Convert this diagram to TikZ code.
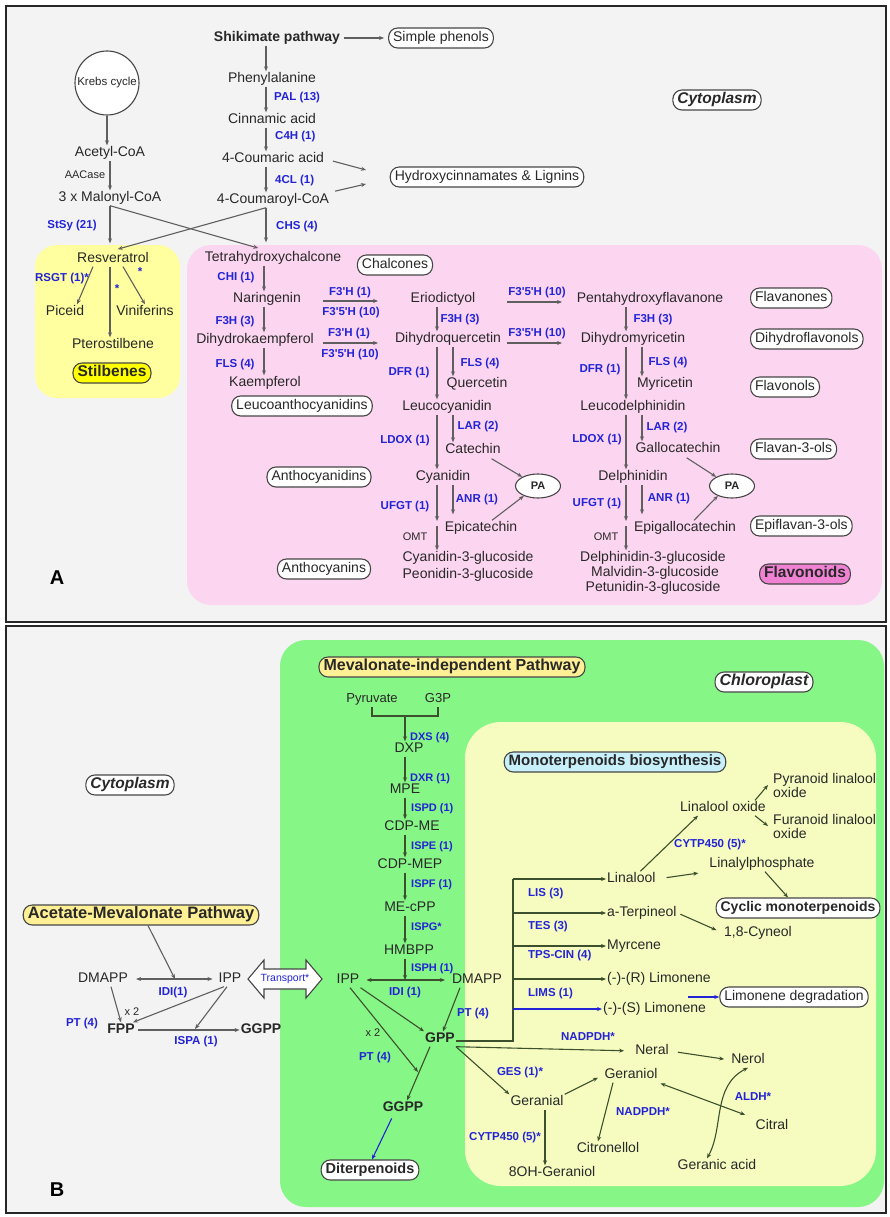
\documentclass[tikz,border=0pt]{standalone}
\usepackage{fontspec}
\setmainfont{Liberation Sans}
\usetikzlibrary{arrows.meta,shapes.geometric,calc}
\definecolor{bgc}{RGB}{243,243,243}
\definecolor{pinkc}{RGB}{252,214,241}
\definecolor{yelc}{RGB}{255,255,160}
\definecolor{stilc}{RGB}{255,255,0}
\definecolor{flavc}{RGB}{240,130,212}
\definecolor{grnc}{RGB}{134,246,134}
\definecolor{pyelc}{RGB}{246,252,192}
\definecolor{mevc}{RGB}{255,240,150}
\definecolor{cyanc}{RGB}{200,240,250}
\definecolor{txtc}{RGB}{40,40,40}
\definecolor{enzc}{RGB}{35,35,215}
\definecolor{arca}{RGB}{95,95,95}
\definecolor{arcb}{RGB}{60,80,45}
\definecolor{boxc}{RGB}{70,70,70}
\newcommand\pq{\textquotesingle}
\begin{document}
\begin{tikzpicture}[x=1pt,y=-1pt,
 lbl/.style={font=\fontsize{14}{15}\selectfont, text=txtc, inner sep=1pt, text height=10pt, text depth=3pt},
 lblb/.style={lbl, font=\fontsize{14}{15}\selectfont\bfseries},
 lblm/.style={font=\fontsize{14}{14}\selectfont, text=txtc, inner sep=1pt, align=left},
 enz/.style={font=\fontsize{11.5}{13}\selectfont\bfseries, text=enzc, inner sep=1pt, text height=8.5pt, text depth=2.5pt},
 enzs/.style={enz, font=\fontsize{11}{12}\selectfont\bfseries},
 smal/.style={font=\fontsize{11}{12}\selectfont, text=txtc, inner sep=1pt},
 pill/.style={draw=boxc, line width=1.1pt, rounded corners=9pt, fill=white, font=\fontsize{14}{15}\selectfont, text=txtc, inner xsep=4.5pt, inner ysep=3.5pt, text height=10pt, text depth=3pt},
 paov/.style={ellipse, draw=boxc, line width=1.1pt, fill=white, minimum width=45pt, minimum height=24pt, inner sep=0pt, font=\fontsize{11}{12}\selectfont\bfseries, text=txtc},
 arA/.style={draw=arca, line width=1.1pt, -{Stealth[length=5pt,width=4pt]}},
 arAd/.style={draw=arca, line width=1.1pt, {Stealth[length=5pt,width=4pt]}-{Stealth[length=5pt,width=4pt]}},
 arB/.style={draw=arcb, line width=1.1pt, -{Stealth[length=5pt,width=4pt]}},
 arBd/.style={draw=arcb, line width=1.1pt, {Stealth[length=5pt,width=4pt]}-{Stealth[length=5pt,width=4pt]}},
 arBl/.style={draw=enzc, line width=1.1pt, -{Stealth[length=5pt,width=4pt]}},
 lnB/.style={draw=arcb, line width=1.1pt},
]
\useasboundingbox (0,0) rectangle (890,1217);
\fill[white] (0,0) rectangle (890,1217);
\filldraw[fill=bgc, draw=black!85, line width=2pt] (6,6) rectangle (886,622);
\filldraw[fill=bgc, draw=black!85, line width=2pt] (6,626) rectangle (886,1213);

% ---------- regions
\fill[yelc, rounded corners=22pt] (35,245) rectangle (180,398);
\fill[pinkc, rounded corners=24pt] (187,245) rectangle (882,605);
\fill[grnc, rounded corners=26pt] (280,640) rectangle (884,1207);
\fill[pyelc, rounded corners=36pt] (465,722) rectangle (876,1186);

% ---------- columns
\coordinate (cS) at (266,0);
\coordinate (cN) at (264,0);
\coordinate (cE1) at (437,0);
\coordinate (cE2) at (453,0);
\coordinate (cP1) at (626,0);
\coordinate (cP2) at (642,0);
\coordinate (cB) at (405,0);

% ================= PANEL A =================
\node[lblb] (shik) at (277,38) {Shikimate pathway};
\node[pill] (simp) at (441,38) {Simple phenols};
\node[lbl] (phe) at (272,79) {Phenylalanine};
\node[lbl] (cin) at (272,120) {Cinnamic acid};
\node[lbl] (cou) at (273,159) {4-Coumaric acid};
\node[lbl] (coa) at (273,200) {4-Coumaroyl-CoA};
\node[pill] (hyd) at (487,177) {Hydroxycinnamates \& Lignins};
\node[enz, anchor=west] (pal) at (273,98) {PAL (13)};
\node[enz, anchor=west] (c4h) at (274,137) {C4H (1)};
\node[enz, anchor=west] (fcl) at (274,180) {4CL (1)};
\node[enz, anchor=west] (chs) at (275,226) {CHS (4)};
\node[circle, draw=boxc, line width=1.1pt, fill=white, minimum size=64pt, inner sep=0pt, font=\fontsize{11.5}{12}\selectfont, text=txtc] (krebs) at (107,83) {Krebs cycle};
\node[lbl] (acoa) at (110,153) {Acetyl-CoA};
\node[smal] (aac) at (85,175) {AACase};
\node[lbl] (mal) at (110,198) {3 x Malonyl-CoA};
\node[enz] (stsy) at (72,225) {StSy (21)};
\node[pill, font=\fontsize{15.5}{16}\selectfont\bfseries\itshape] (cyt1) at (717,100) {Cytoplasm};

\draw[arA] (shik.south -| cS) -- (phe.north -| cS);
\draw[arA] (phe.south -| cS) -- (cin.north -| cS);
\draw[arA] (cin.south -| cS) -- (cou.north -| cS);
\draw[arA] (cou.south -| cS) -- (coa.north -| cS);
\draw[arA, shorten <=3pt, shorten >=4pt] (shik.east) -- (simp.west);
\coordinate (hy1) at (366,170);
\coordinate (hy2) at (366,184);
\draw[arA, shorten <=8pt] (cou.east) -- (hy1);
\draw[arA, shorten <=5pt] (coa.north east) -- (hy2);
\draw[arA] (krebs.south) -- (krebs.south |- acoa.north);
\draw[arA] (acoa.south) -- (mal.north);

% stilbenes
\node[lbl] (resv) at (113,259) {Resveratrol};
\node[lbl] (tetra) at (273,258) {Tetrahydroxychalcone};
\draw[arA, shorten >=8pt] (mal.south) -- (mal.south |- resv.north);
\draw[arA, shorten >=8pt] (mal.south) -- (tetra.north -| cS);
\draw[arA, shorten >=8pt] (coa.south -| cS) -- (tetra.north -| cS);
\draw[arA, shorten >=8pt] (coa.south -| cS) -- (mal.south |- resv.north);

\node[lbl] (pice) at (65,312) {Piceid};
\node[lbl] (vini) at (145,312) {Viniferins};
\node[lbl] (ptero) at (113,345) {Pterostilbene};
\node[pill, fill=stilc, font=\fontsize{15.5}{16}\selectfont\bfseries] (stil) at (112,373) {Stilbenes};
\node[enz] (rsgt) at (62,278) {RSGT (1)*};
\node[enz] (st1) at (140,272) {*};
\node[enz] (st2) at (117,289) {*};
\draw[arA] ([xshift=-20pt]resv.south) -- ([xshift=12pt]pice.north);
\draw[arA] ([xshift=-3pt]resv.south) -- ([xshift=-3pt]resv.south |- ptero.north);
\draw[arA] ([xshift=10pt]resv.south) -- (vini.north);

% flavonoids: left column
\node[pill] (chal) at (395,265) {Chalcones};
\node[enz] (chi) at (236,277) {CHI (1)};
\node[lbl] (nar) at (267,299) {Naringenin};
\node[enz] (f3ha) at (235,321) {F3H (3)};
\node[lbl] (dhk) at (255,340) {Dihydrokaempferol};
\node[enz] (flsa) at (235,364) {FLS (4)};
\node[lbl] (kae) at (265,383) {Kaempferol};
\node[pill] (leuco) at (302,406) {Leucoanthocyanidins};
\node[pill] (antho) at (319,477) {Anthocyanidins};
\node[pill] (anthc) at (324,569) {Anthocyanins};
\draw[arA] (tetra.south -| cN) -- (nar.north -| cN);
\draw[arA] (nar.south -| cN) -- (dhk.north -| cN);
\draw[arA] (dhk.south -| cN) -- (kae.north -| cN);

% horizontal hydroxylations
\coordinate (h1a) at (323,301); \coordinate (h1b) at (378,301);
\coordinate (h2a) at (323,343); \coordinate (h2b) at (378,343);
\coordinate (h3a) at (507,302); \coordinate (h3b) at (562,302);
\coordinate (h4a) at (507,343); \coordinate (h4b) at (562,343);
\draw[arA] (h1a) -- (h1b);
\draw[arA] (h2a) -- (h2b);
\draw[arA] (h3a) -- (h3b);
\draw[arA] (h4a) -- (h4b);
\node[enz] (l1a) at (350,292) {F3\pq H (1)};
\node[enz] (l1b) at (351,312) {F3\pq5\pq H (10)};
\node[enz] (l2a) at (349,333) {F3\pq H (1)};
\node[enz] (l2b) at (350,354) {F3\pq5\pq H (10)};
\node[enz] (l3a) at (537,292) {F3\pq5\pq H (10)};
\node[enz] (l4a) at (537,333) {F3\pq5\pq H (10)};

% middle column
\node[lbl] (erio) at (443,299) {Eriodictyol};
\node[enz] (f3hb) at (460,319) {F3H (3)};
\node[lbl] (dhq) at (448,339) {Dihydroquercetin};
\node[enz] (dfra) at (409,372) {DFR (1)};
\node[enz] (flsb) at (480,363) {FLS (4)};
\node[lbl] (quer) at (477,384) {Quercetin};
\node[lbl] (leuc) at (447,407) {Leucocyanidin};
\node[enz] (lara) at (478,426) {LAR (2)};
\node[enz] (ldoxa) at (405,440) {LDOX (1)};
\node[lbl] (cat) at (473,450) {Catechin};
\node[lbl] (cyan) at (443,477) {Cyanidin};
\node[paov] (pa1) at (538,486) {PA};
\node[enz] (ufgta) at (405,506) {UFGT (1)};
\node[enz] (anra) at (477,499) {ANR (1)};
\node[lbl] (epic) at (481,528) {Epicatechin};
\node[smal] (omta) at (415,537) {OMT};
\node[lbl] (cy3g) at (468,558) {Cyanidin-3-glucoside};
\node[lbl] (peo) at (468,575) {Peonidin-3-glucoside};
\draw[arA] (erio.south -| cE1) -- (dhq.north -| cE1);
\draw[arA] (dhq.south -| cE1) -- (leuc.north -| cE1);
\draw[arA] (dhq.south -| cE2) -- (quer.north -| cE2);
\draw[arA] (leuc.south -| cE1) -- (cyan.north -| cE1);
\draw[arA] (leuc.south -| cE2) -- (cat.north -| cE2);
\coordinate (u1) at (437,521);
\coordinate (o1) at (437,526);
\draw[arA] (cyan.south -| cE1) -- (u1);
\draw[arA] (o1) -- (cy3g.north -| cE1);
\draw[arA, shorten >=6pt] (cyan.south -| cE2) -- (epic.north -| cE2);
\draw[arA, shorten <=2pt] ([xshift=-12pt]cat.south east) -- (pa1.150);
\draw[arA] ([xshift=11pt]epic.north) -- (pa1.215);

% right column
\node[lbl] (pent) at (650,299) {Pentahydroxyflavanone};
\node[enz] (f3hc) at (653,319) {F3H (3)};
\node[lbl] (dhm) at (633,339) {Dihydromyricetin};
\node[enz] (dfrb) at (600,369) {DFR (1)};
\node[enz] (flsc) at (668,362) {FLS (4)};
\node[lbl] (myr) at (665,384) {Myricetin};
\node[lbl] (leud) at (633,407) {Leucodelphinidin};
\node[enz] (larb) at (667,427) {LAR (2)};
\node[enz] (ldoxb) at (597,439) {LDOX (1)};
\node[lbl] (galc) at (678,449) {Gallocatechin};
\node[lbl] (delp) at (633,477) {Delphinidin};
\node[paov] (pa2) at (732,486) {PA};
\node[enz] (ufgtb) at (597,503) {UFGT (1)};
\node[enz] (anrb) at (669,498) {ANR (1)};
\node[lbl] (epig) at (685,528) {Epigallocatechin};
\node[smal] (omtb) at (606,537) {OMT};
\node[lbl] (d3g) at (653,558) {Delphinidin-3-glucoside};
\node[lbl] (m3g) at (655,573) {Malvidin-3-glucoside};
\node[lbl] (p3g) at (653,588) {Petunidin-3-glucoside};
\draw[arA] (pent.south -| cP1) -- (dhm.north -| cP1);
\draw[arA] (dhm.south -| cP1) -- (leud.north -| cP1);
\draw[arA] (dhm.south -| cP2) -- (myr.north -| cP2);
\draw[arA] (leud.south -| cP1) -- (delp.north -| cP1);
\draw[arA] (leud.south -| cP2) -- (galc.north -| cP2);
\coordinate (u2) at (626,521);
\coordinate (o2) at (626,526);
\draw[arA] (delp.south -| cP1) -- (u2);
\draw[arA] (o2) -- (d3g.north -| cP1);
\draw[arA, shorten >=6pt] (delp.south -| cP2) -- (epig.north -| cP2);
\draw[arA, shorten <=2pt] ([xshift=7pt]galc.south) -- (pa2.150);
\draw[arA] ([xshift=9pt]epig.north) -- (pa2.215);

% category boxes
\node[pill, anchor=west] (flvn) at (750,298) {Flavanones};
\node[pill, anchor=west] (dhfl) at (750,339) {Dihydroflavonols};
\node[pill, anchor=west] (flvl) at (750,387) {Flavonols};
\node[pill, anchor=west] (f3ol) at (750,449) {Flavan-3-ols};
\node[pill, anchor=west] (ef3ol) at (750,526) {Epiflavan-3-ols};
\node[pill, fill=flavc, font=\fontsize{15.5}{16}\selectfont\bfseries] (flav) at (805,574) {Flavonoids};

\node[font=\fontsize{20}{22}\selectfont\bfseries, text=black] (labA) at (57,578) {A};

% ================= PANEL B =================
\node[pill, fill=mevc, font=\fontsize{16}{17}\selectfont\bfseries] (mip) at (452,667) {Mevalonate-independent Pathway};
\node[pill, font=\fontsize{16}{17}\selectfont\bfseries\itshape] (chl) at (764,682) {Chloroplast};
\node[pill, font=\fontsize{15.5}{16}\selectfont\bfseries\itshape] (cyt2) at (130,785) {Cytoplasm};
\node[pill, fill=mevc, font=\fontsize{16.5}{17}\selectfont\bfseries] (amp) at (141,915) {Acetate-Mevalonate Pathway};
\node[pill, fill=cyanc, font=\fontsize{15}{16}\selectfont\bfseries] (mono) at (615,762) {Monoterpenoids biosynthesis};

\node[lbl, font=\fontsize{13}{14}\selectfont] (pyr) at (372,699) {Pyruvate};
\node[lbl, font=\fontsize{13}{14}\selectfont] (g3p) at (438,699) {G3P};
\coordinate (brm) at (405,716);
\draw[lnB] (pyr.south) |- (brm) -| (g3p.south);

\node[lbl] (dxp) at (409,749) {DXP};
\node[lbl] (mpe) at (405,790) {MPE};
\node[lbl] (cdpme) at (412,827) {CDP-ME};
\node[lbl] (cdpmep) at (410,865) {CDP-MEP};
\node[lbl] (mecpp) at (410,908) {ME-cPP};
\node[lbl] (hmbpp) at (409,951) {HMBPP};
\node[enzs, anchor=west] (dxs) at (409,737) {DXS (4)};
\node[enzs, anchor=west] (dxr) at (409,778) {DXR (1)};
\node[enzs, anchor=west] (ispd) at (410,808) {ISPD (1)};
\node[enzs, anchor=west] (ispe) at (410,846) {ISPE (1)};
\node[enzs, anchor=west] (ispf) at (410,884) {ISPF (1)};
\node[enzs, anchor=west] (ispg) at (410,927) {ISPG*};
\node[enzs, anchor=west] (isph) at (410,968) {ISPH (1)};
\draw[arB] (brm) -- (dxp.north -| cB);
\draw[arB] (dxp.south -| cB) -- (mpe.north -| cB);
\draw[arB] (mpe.south -| cB) -- (cdpme.north -| cB);
\draw[arB] (cdpme.south -| cB) -- (cdpmep.north -| cB);
\draw[arB] (cdpmep.south -| cB) -- (mecpp.north -| cB);
\draw[arB] (mecpp.south -| cB) -- (hmbpp.north -| cB);

\node[lbl] (ipp2) at (348,980) {IPP};
\node[lbl] (dmapp2) at (477,980) {DMAPP};
\coordinate (idm) at (405,980);
\draw[arBd, shorten <=6pt, shorten >=6pt] (ipp2.east) -- (dmapp2.west);
\draw[arB] (hmbpp.south -| cB) -- (idm);
\node[enz] (idi2) at (405,992) {IDI (1)};
\node[lblb] (gpp) at (440,1039) {GPP};
\node[lblb] (ggpp2) at (403,1108) {GGPP};
\node[enz] (pt2) at (473,1013) {PT (4)};
\node[smal] (x2b) at (373,1033) {x 2};
\node[enz] (pt3) at (375,1057) {PT (4)};
\node[pill, font=\fontsize{14.5}{15}\selectfont\bfseries] (diter) at (370,1170) {Diterpenoids};
\coordinate (gj) at (418,1072);
\draw[arB] (ipp2.south east) -- (gpp.north west);
\draw[arB] ([xshift=-17pt]dmapp2.south) -- ([xshift=3pt]gpp.north);
\draw[arB] ([xshift=2pt]ipp2.south) -- (gj);
\draw[arB] ([xshift=-10pt]gpp.south) -- ([xshift=4pt]ggpp2.north);
\draw[arBl, shorten <=3pt] ([xshift=-10pt]ggpp2.south) -- ([xshift=2pt]diter.north);

% cytoplasm (left)
\node[lbl] (dmapp1) at (103,979) {DMAPP};
\node[lbl] (ipp1) at (230,979) {IPP};
\node[enz] (idi1) at (173,992) {IDI(1)};
\node[lblb] (fpp) at (121,1030) {FPP};
\node[lblb] (ggpp1) at (261,1030) {GGPP};
\node[enz] (ispa) at (196,1041) {ISPA (1)};
\node[enz] (pt1) at (82,1023) {PT (4)};
\node[smal] (x2a) at (132,1012) {x 2};
\coordinate (aj) at (175,979);
\coordinate (fj) at (195,1029);
\draw[arAd, shorten <=7pt, shorten >=5pt] (dmapp1.east) -- (ipp1.west);
\draw[arA] ([xshift=7pt]amp.south) -- (aj);
\draw[arA] ([xshift=8pt]dmapp1.south) -- (fpp.north);
\draw[arA] ([xshift=-6pt]ipp1.south) -- ([xshift=12pt]fpp.north);
\draw[arA] ([xshift=-3pt]ipp1.south) -- (fj);
\draw[arA, shorten <=2pt] (fpp.east) -- (ggpp1.west);

% transport
\draw[draw=boxc, line width=1.1pt, fill=white] (248,979) -- (264,960) -- (264,969) -- (306,969) -- (306,960) -- (322,979) -- (306,998) -- (306,989) -- (264,989) -- (264,998) -- cycle;
\node[font=\fontsize{10.5}{11}\selectfont, text=enzc, inner sep=0pt] (trans) at (285,979) {Transport*};

% monoterpenoids
\node[lbl, anchor=west] (lin) at (606,879) {Linalool};
\node[lbl, anchor=west] (aterp) at (606,913) {a-Terpineol};
\node[lbl, anchor=west] (myrc) at (606,946) {Myrcene};
\node[lbl, anchor=west] (rlim) at (606,979) {(-)-(R) Limonene};
\node[lbl, anchor=west] (slim) at (602,1009) {(-)-(S) Limonene};
\coordinate (brk0) at (513,1041);
\draw[lnB] (gpp.east |- brk0) -- (brk0) -- (lin.west -| brk0);
\draw[arB] (lin.west -| brk0) -- (lin.west);
\draw[arB] (aterp.west -| brk0) -- (aterp.west);
\draw[arB] (myrc.west -| brk0) -- (myrc.west);
\draw[arB] (rlim.west -| brk0) -- (rlim.west);
\draw[arBl] (slim.west -| brk0) -- (slim.west);
\node[enz, anchor=west] (lis) at (527,893) {LIS (3)};
\node[enz, anchor=west] (tes) at (527,926) {TES (3)};
\node[enz, anchor=west] (tps) at (527,955) {TPS-CIN (4)};
\node[enz, anchor=west] (lims) at (527,993) {LIMS (1)};

\node[lbl] (linox) at (723,808) {Linalool oxide};
\node[lblm, anchor=west] (pyrl) at (772,785) {Pyranoid linalool\\oxide};
\node[lblm, anchor=west] (furl) at (772,826) {Furanoid linalool\\oxide};
\node[enz] (cyp1) at (710,844) {CYTP450 (5)*};
\node[lbl] (linp) at (762,864) {Linalylphosphate};
\node[pill, font=\fontsize{14}{15}\selectfont\bfseries] (cyc) at (798,908) {Cyclic monoterpenoids};
\node[lbl] (cyn) at (758,933) {1,8-Cyneol};
\node[pill] (limd) at (794,997) {Limonene degradation};
\coordinate (lds) at (688,997);
\draw[arB] ([xshift=9pt]lin.north) -- ([xshift=-25pt]linox.south);
\draw[arB, shorten <=10pt, shorten >=10pt] (lin.east) -- (linp.south west);
\draw[arB] ([xshift=32pt]linox.north) -- ([xshift=-4pt]pyrl.west);
\draw[arB] ([xshift=32pt]linox.south) -- ([xshift=-4pt]furl.west);
\draw[arB] ([xshift=3pt]linp.south) -- ([xshift=-10pt]cyc.north);
\draw[arB, shorten <=3pt, shorten >=7pt] (aterp.east) -- (cyn.west);
\draw[arBl] (lds) -- (limd.west);

\node[enz] (nad1) at (588,1037) {NADPDH*};
\node[lbl] (neral) at (652,1051) {Neral};
\node[lbl] (nerol) at (748,1060) {Nerol};
\node[enz] (ges) at (520,1072) {GES (1)*};
\node[lbl] (gerl) at (537,1102) {Geranial};
\node[lbl] (gero) at (631,1075) {Geraniol};
\node[enz] (nad2) at (643,1112) {NADPDH*};
\node[lbl] (citro) at (608,1149) {Citronellol};
\node[enz] (cyp2) at (505,1137) {CYTP450 (5)*};
\node[lbl] (ohg) at (552,1173) {8OH-Geraniol};
\node[lbl] (citr) at (772,1126) {Citral};
\node[enz] (aldh) at (753,1097) {ALDH*};
\node[lbl] (gacid) at (717,1166) {Geranic acid};
\draw[arB, shorten >=10pt] (gpp.south east) -- (neral.west);
\draw[arB, shorten <=8pt, shorten >=6pt] (neral.east) -- (nerol.west);
\draw[arB] (gpp.south east) -- (gerl.north west);
\draw[arB, shorten >=6pt] (gerl.north east) -- (gero.west);
\draw[arB] ([xshift=-18pt]gero.south) -- ([xshift=-10pt]citro.north);
\draw[arB] ([xshift=8pt]gerl.south) -- ([xshift=-7pt]ohg.north);
\draw[arBd, shorten <=2pt, shorten >=10pt] (gero.south east) -- (citr.north west);
\draw[arBd] (nerol.south) .. controls (712,1086) and (724,1128) .. ([xshift=-10pt]gacid.north);

\node[font=\fontsize{20}{22}\selectfont\bfseries, text=black] (labB) at (57,1190) {B};
\end{tikzpicture}
\end{document}
